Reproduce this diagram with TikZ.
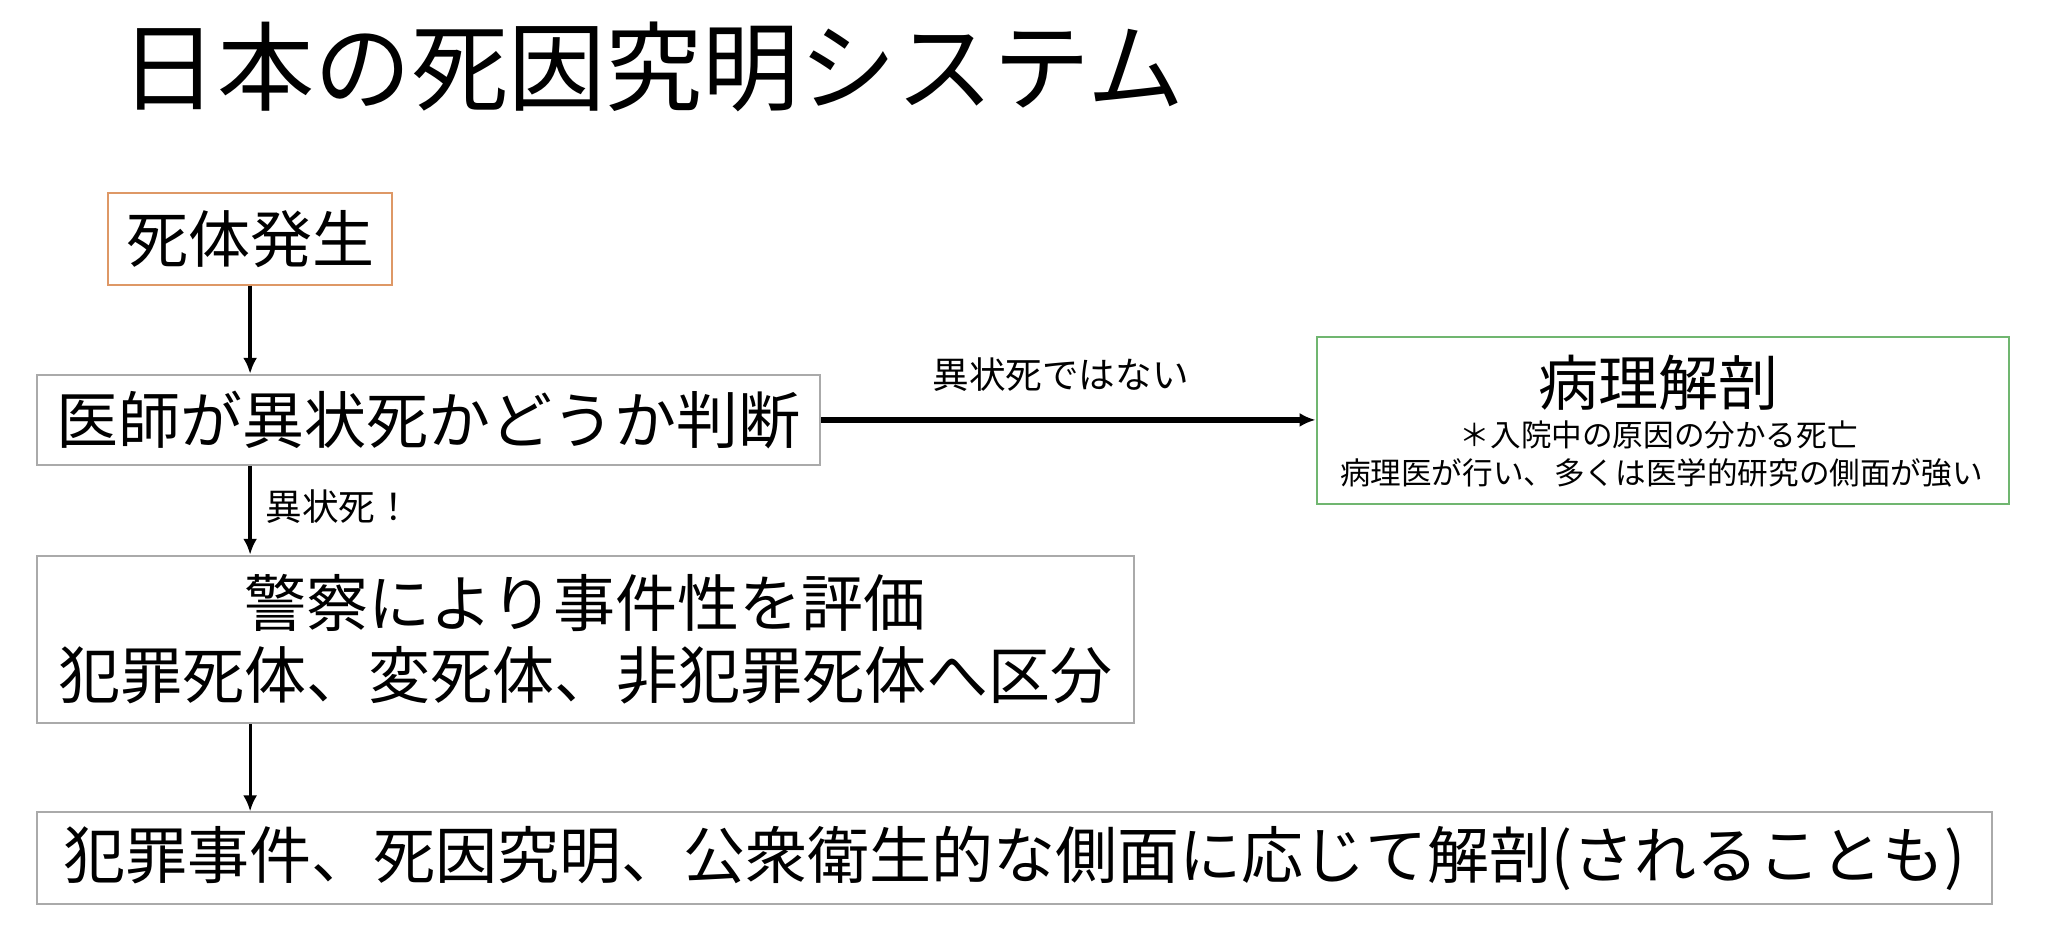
\documentclass[tikz,border=0pt]{standalone}
\usepackage{fontspec}
\setmainfont{Noto Sans CJK JP}
\usetikzlibrary{arrows.meta}

\definecolor{boxgray}{RGB}{170,170,170}
\definecolor{boxorange}{RGB}{222,152,102}
\definecolor{boxgreen}{RGB}{112,182,112}
\newcommand{\pxu}{0.653pt}

\begin{document}
\begin{tikzpicture}[x=0.653pt,y=-0.653pt,
  box/.style={draw=boxgray,line width=1pt,inner sep=0pt,align=center},
  flow/.style={-{Latex[length=8pt,width=7pt]},line width=2pt},
  big/.style={font=\fontsize{31}{36}\selectfont},
  small/.style={font=\fontsize{18.3}{22}\selectfont,inner sep=0pt}]
\useasboundingbox (0,0) rectangle (1568,714);

\node[anchor=west,inner sep=0pt,font=\fontsize{48.5}{58}\selectfont] (title) at (92,51) {日本の死因究明システム};

\node[box,big,draw=boxorange,minimum width=217*\pxu,minimum height=70*\pxu] (dead) at (191.5,183) {死体発生};
\node[box,big,minimum width=600*\pxu,minimum height=69*\pxu] (judge) at (328,321.5) {医師が異状死かどうか判断};
\node[box,draw=boxgreen,minimum width=530*\pxu,minimum height=128*\pxu] (patho) at (1273,322) {};
\node[inner sep=0pt,font=\fontsize{30}{36}\selectfont] (pathotitle) at (1270,293) {病理解剖};
\node[inner sep=0pt,font=\fontsize{15.3}{18}\selectfont] (pathonote) at (1270,333) {＊入院中の原因の分かる死亡};
\node[inner sep=0pt,font=\fontsize{15.3}{18}\selectfont] (pathodesc) at (1272,362) {病理医が行い、多くは医学的研究の側面が強い};
\node[box,big,minimum width=840*\pxu,minimum height=128*\pxu] (police) at (448,489.5) {警察により事件性を評価\\犯罪死体、変死体、非犯罪死体へ区分};
\node[box,big,minimum width=1497*\pxu,minimum height=70*\pxu] (autopsy) at (776.5,657) {犯罪事件、死因究明、公衆衛生的な側面に応じて解剖(されることも)};

% arrows
\draw[flow] (dead.south) -- (dead.south |- judge.north);
\draw[flow,line width=2.6pt] (judge.east) -- (judge.east -| patho.west);
\draw[flow] (judge.south -| dead.south) -- (police.north -| dead.south);
\draw[flow,line width=1.5pt] (police.south -| dead.south) -- (autopsy.north -| dead.south);

\node[small] (notlabel) at (812,287) {異状死ではない};
\node[small,anchor=west] (yeslabel) at (203,388) {異状死！};

\end{tikzpicture}
\end{document}
